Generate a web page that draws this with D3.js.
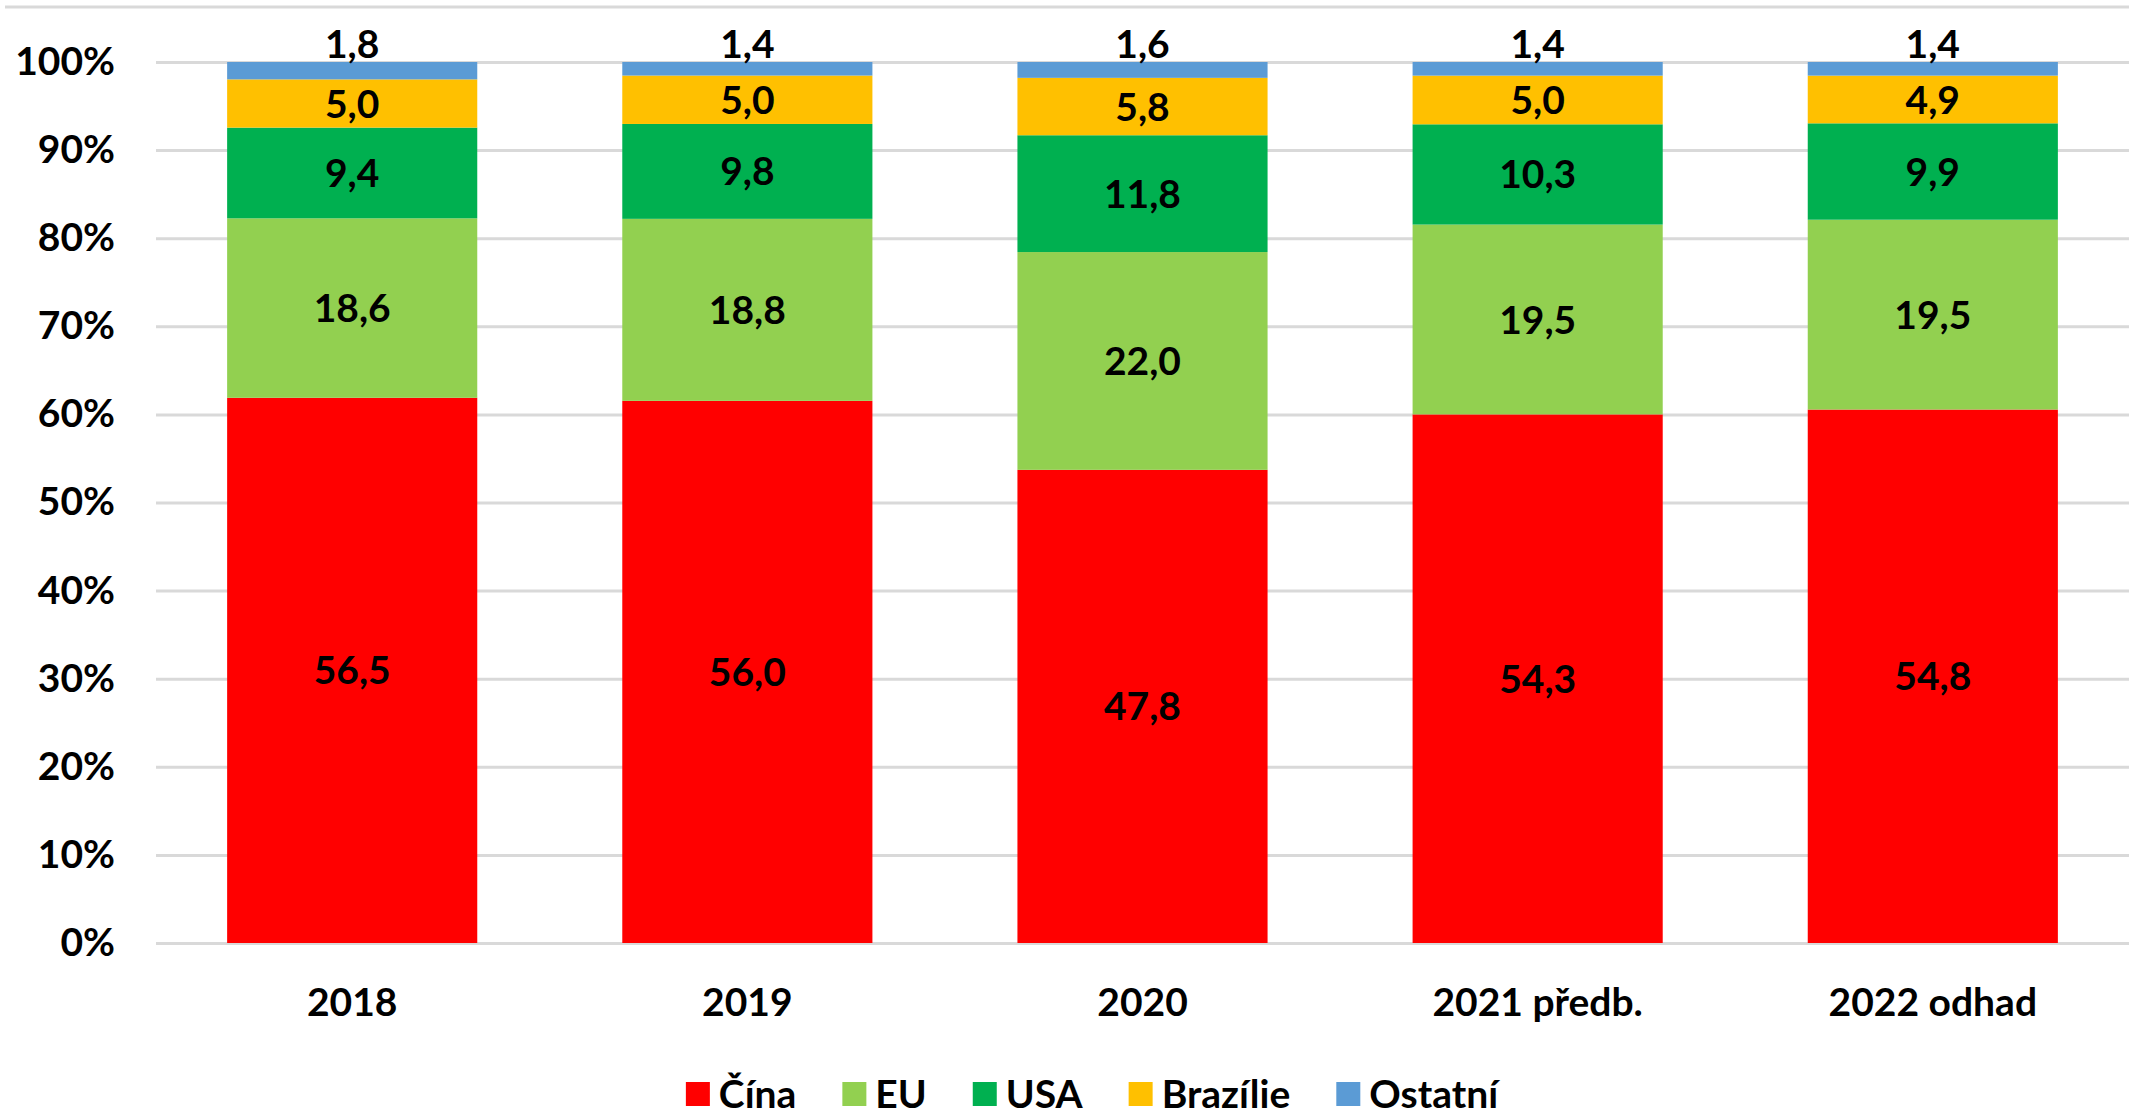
<!DOCTYPE html>
<html>
<head>
<meta charset="utf-8">
<style>
  body { margin: 0; background: #fff; }
  svg text { font-family: Lato, "Open Sans", sans-serif; fill: #000; }
</style>
</head>
<body>
<svg width="2129" height="1117"></svg>
<script src="https://d3js.org/d3.v7.min.js"></script>
<script>
// categories and series (values in % as labelled on the chart)
var years = ["2018", "2019", "2020", "2021 předb.", "2022 odhad"];
var seriesNames = ["Čína", "EU", "USA", "Brazílie", "Ostatní"];
var cina     = [56.5, 56.0, 47.8, 54.3, 54.8];
var eu       = [18.6, 18.8, 22.0, 19.5, 19.5];
var usa      = [9.4, 9.8, 11.8, 10.3, 9.9];
var brazilie = [5.0, 5.0, 5.8, 5.0, 4.9];
var ostatni  = [1.8, 1.4, 1.6, 1.4, 1.4];
var yTicks   = [0, 0.1, 0.2, 0.3, 0.4, 0.5, 0.6, 0.7, 0.8, 0.9, 1];

var colors = ["#FF0000", "#92D050", "#00B050", "#FFC000", "#5B9BD5"];
var allSeries = [cina, eu, usa, brazilie, ostatni];

// table for d3.stack
var table = years.map(function(yr, i) {
  var row = { year: yr };
  seriesNames.forEach(function(s, j) { row[s] = allSeries[j][i]; });
  return row;
});

var svg = d3.select("svg");
var plotLeft = 156, plotRight = 2129, plotTop = 62, plotBottom = 943;

var x = d3.scaleBand()
    .domain(years)
    .range([plotLeft, plotRight])
    .paddingInner(0.367)
    .paddingOuter(0.18);

var y = d3.scaleLinear()
    .domain([0, 1])
    .range([plotBottom, plotTop]);

var fmt = function(v) { return v.toFixed(1).replace(".", ","); };

// top border line
svg.append("line")
    .attr("x1", 5).attr("x2", plotRight)
    .attr("y1", 7).attr("y2", 7)
    .attr("stroke", "#D9D9D9")
    .attr("stroke-width", 3);

// gridlines + y labels
var yAxis = svg.append("g")
    .attr("transform", "translate(" + plotLeft + ",0)")
    .call(d3.axisLeft(y)
      .tickValues(yTicks)
      .tickFormat(d3.format(".0%"))
      .tickSize(-(plotRight - plotLeft))
      .tickPadding(41));
yAxis.select(".domain").remove();
yAxis.selectAll(".tick line")
    .attr("stroke", "#D9D9D9")
    .attr("stroke-width", 3);
yAxis.selectAll(".tick text")
    .attr("font-size", 39)
    .attr("font-weight", 700)
    .attr("fill", "#000");

var stack = d3.stack()
    .keys(seriesNames)
    .offset(d3.stackOffsetExpand);
var layers = stack(table);

var groups = svg.append("g")
  .selectAll("g")
  .data(layers)
  .enter().append("g")
    .attr("fill", function(d, i) { return colors[i]; });

groups.selectAll("rect")
  .data(function(d) { return d; })
  .enter().append("rect")
    .attr("x", function(d) { return x(d.data.year); })
    .attr("width", x.bandwidth())
    .attr("y", function(d) { return y(d[1]); })
    .attr("height", function(d) { return y(d[0]) - y(d[1]); });

// data labels (Ostatní sits above the bar)
layers.forEach(function(layer, li) {
  var name = seriesNames[li];
  svg.append("g").selectAll("text")
    .data(layer)
    .enter().append("text")
      .attr("x", function(d) { return x(d.data.year) + x.bandwidth() / 2; })
      .attr("y", function(d) {
        if (name === "Ostatní") return y(d[1]) - 4;
        return (y(d[0]) + y(d[1])) / 2;
      })
      .attr("dy", name === "Ostatní" ? 0 : "0.36em")
      .attr("text-anchor", "middle")
      .attr("font-size", 39)
      .attr("font-weight", 700)
      .text(function(d) { return fmt(d.data[name]); });
});

// category axis
var xAxis = svg.append("g")
    .attr("transform", "translate(0," + plotBottom + ")")
    .call(d3.axisBottom(x).tickSize(0).tickPadding(45));
xAxis.select(".domain").remove();
xAxis.selectAll(".tick text")
    .attr("font-size", 39)
    .attr("font-weight", 700)
    .attr("fill", "#000");

// legend
var legend = svg.append("g");
var lx = 0, gap = 46;
seriesNames.forEach(function(s, i) {
  var item = legend.append("g").attr("transform", "translate(" + lx + ",0)");
  item.append("rect")
      .attr("x", 0).attr("y", -12)
      .attr("width", 24).attr("height", 24)
      .attr("fill", colors[i]);
  var t = item.append("text")
      .attr("x", 33)
      .attr("y", 0)
      .attr("dy", "0.36em")
      .attr("font-size", 39)
      .attr("font-weight", 700)
      .text(s);
  lx += 33 + t.node().getComputedTextLength() + gap;
});
var lw = lx - gap;
legend.attr("transform", "translate(" + (1092 - lw / 2) + ",1094)");
</script>
</body>
</html>
